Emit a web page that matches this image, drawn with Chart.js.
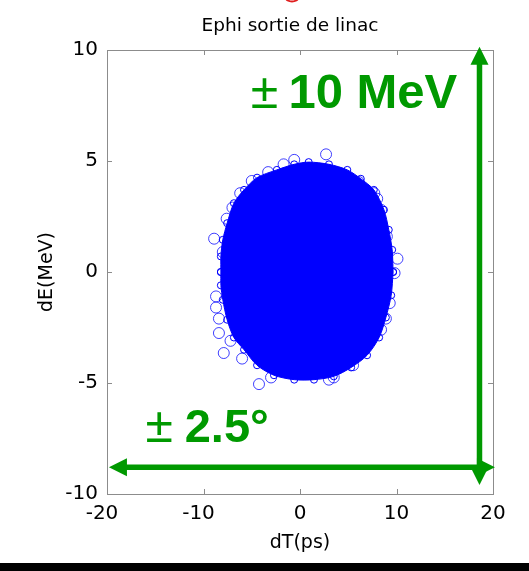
<!DOCTYPE html>
<html>
<head>
<meta charset="utf-8">
<script src="https://cdn.jsdelivr.net/npm/chart.js@4.4.1/dist/chart.umd.min.js"></script>
<style>
  html, body { margin: 0; padding: 0; background: #fff; }
  canvas { display: block; }
</style>
</head>
<body>
<canvas id="ephiChart" width="529" height="571"></canvas>
<script>
// axis ticks
const tTicks = [-20, -10, 0, 10, 20];
const eTicks = [-10, -5, 0, 5, 10];

// edge of the dense core (dT in ps, dE in MeV)
const topEdgeT = [-8.2, -8.2, -8.0, -7.55, -6.85, -5.8, -4.45, -2.4, -0.6, 0.9, 3.0, 4.9, 6.3, 7.65, 8.7, 9.2, 9.55, 9.65];
const topEdgeE = [0, 0.7, 1.45, 2.2, 3.1, 3.7, 4.25, 4.6, 4.85, 4.95, 4.85, 4.6, 4.2, 3.7, 2.8, 1.9, 1.0, 0];
const lowEdgeT = [-8.2, -8.2, -8.0, -7.55, -6.85, -5.8, -4.45, -2.7, -0.6, 1.45, 3.5, 5.3, 6.95, 8.2, 8.9, 9.45, 9.65];
const lowEdgeE = [0, -0.6, -1.25, -2.15, -2.95, -3.5, -4.2, -4.65, -4.85, -4.85, -4.7, -4.3, -3.75, -2.95, -2.05, -1.05, 0];

// isolated particles around the core
const strayT = [2.7, -0.6, -1.7, -3.3, -7.0, -8.9, 6.1, 7.7, 8.4, 10.1, 9.8, -8.7, -8.7, 8.9, -8.4, -8.4, -7.9, -4.25, 3.0, 3.5, 7.15,
                -6.2, -5.0, -7.6, -8.0, 8.0, 9.0, 9.3, 8.4, -7.2, -6.0, -3.0, 5.5];
const strayE = [5.3, 5.05, 4.85, 4.5, 2.9, 1.5, 4.05, 3.55, 2.8, 0.6, -0.05, -1.1, -1.6, -2.1, -2.1, -2.75, -3.65, -5.05, -4.85, -4.75, -3.0,
                3.55, 4.1, 2.4, 0.9, 3.3, 1.6, -1.4, -2.6, -3.1, -3.9, -4.75, -4.2];

const BLUE = '#0000ff';
const GREEN = 'rgb(0,153,0)';
const FRAME = '#8c8c8c';

function pairs(xs, ys) {
  return xs.map((x, i) => ({ x: x, y: ys[i] }));
}

function tri(ctx, p) {
  ctx.beginPath();
  ctx.moveTo(p[0], p[1]); ctx.lineTo(p[2], p[3]); ctx.lineTo(p[4], p[5]);
  ctx.closePath();
  ctx.fill();
}

const decor = {
  id: 'decor',
  beforeDraw(chart) {
    const ctx = chart.ctx;
    ctx.save();
    ctx.fillStyle = '#fff';
    ctx.fillRect(0, 0, chart.width, chart.height);
    ctx.restore();
  },
  afterDraw(chart) {
    const ctx = chart.ctx;
    const xs = chart.scales.x, ys = chart.scales.y;
    const a = chart.chartArea;
    const px = v => xs.getPixelForValue(v);
    const py = v => ys.getPixelForValue(v);

    ctx.save();
    // inward tick marks on all four sides
    ctx.strokeStyle = FRAME;
    ctx.lineWidth = 1;
    ctx.beginPath();
    xs.ticks.forEach(t => {
      const x = Math.round(px(t.value)) + 0.5;
      ctx.moveTo(x, a.bottom); ctx.lineTo(x, a.bottom - 5);
      ctx.moveTo(x, a.top); ctx.lineTo(x, a.top + 5);
    });
    ys.ticks.forEach(t => {
      const y = Math.round(py(t.value)) + 0.5;
      ctx.moveTo(a.left, y); ctx.lineTo(a.left + 5, y);
      ctx.moveTo(a.right, y); ctx.lineTo(a.right - 5, y);
    });
    ctx.stroke();

    // title
    ctx.fillStyle = '#000';
    ctx.font = '18.5px "DejaVu Sans"';
    ctx.textAlign = 'center';
    ctx.textBaseline = 'alphabetic';
    ctx.fillText('Ephi sortie de linac', 290, 31);

    // green arrows
    ctx.fillStyle = GREEN;
    ctx.strokeStyle = GREEN;
    ctx.lineWidth = 5.5;
    const vx = px(18.6), vTop = py(10.15), vBot = py(-9.6);
    const hy = py(-8.8), hL = px(-19.8), hR = px(20.2);
    const head = 18, half = 9;
    ctx.beginPath();
    ctx.moveTo(vx, vTop + head - 1); ctx.lineTo(vx, vBot - head + 1);
    ctx.moveTo(hL + head - 1, hy); ctx.lineTo(hR - head + 1, hy);
    ctx.stroke();
    tri(ctx, [vx, vTop, vx - half, vTop + head, vx + half, vTop + head]);
    tri(ctx, [vx, vBot, vx - half, vBot - head, vx + half, vBot - head]);
    tri(ctx, [hL, hy, hL + head, hy - half, hL + head, hy + half]);
    tri(ctx, [hR, hy, hR - head, hy - half, hR - head, hy + half]);

    // range labels
    ctx.textAlign = 'left';
    ctx.font = '50px "Liberation Sans"';
    ctx.fillText('\u00b1', px(-5.1), py(7.39));
    ctx.fillText('\u00b1', px(-16.0), py(-7.66));
    ctx.font = 'bold 49px "Liberation Sans"';
    ctx.fillText('10 MeV', px(-1.2), py(7.39));
    ctx.font = 'bold 47px "Liberation Sans"';
    ctx.fillText('2.5\u00b0', px(-11.95), py(-7.66));

    // slide bits outside the plot
    ctx.fillStyle = '#000';
    ctx.fillRect(0, 563, chart.width, chart.height - 563);
    ctx.strokeStyle = '#e02020';
    ctx.lineWidth = 2;
    ctx.beginPath();
    ctx.ellipse(292, -2, 6, 3.5, 0, 0, Math.PI);
    ctx.stroke();
    ctx.restore();
  }
};

const tickFont = { family: 'DejaVu Sans', size: 20 };
const titleFont = { family: 'DejaVu Sans', size: 19 };

new Chart(document.getElementById('ephiChart'), {
  type: 'scatter',
  data: {
    datasets: [
      {
        data: pairs(topEdgeT, topEdgeE),
        showLine: true,
        tension: 0.3,
        fill: 'origin',
        backgroundColor: BLUE,
        borderColor: BLUE,
        borderWidth: 1,
        pointRadius: 3.5,
        pointBorderColor: BLUE,
        pointBackgroundColor: 'rgba(0,0,255,0)',
        pointBorderWidth: 1
      },
      {
        data: pairs(lowEdgeT, lowEdgeE),
        showLine: true,
        tension: 0.3,
        fill: 'origin',
        backgroundColor: BLUE,
        borderColor: BLUE,
        borderWidth: 1,
        pointRadius: 3.5,
        pointBorderColor: BLUE,
        pointBackgroundColor: 'rgba(0,0,255,0)',
        pointBorderWidth: 1
      },
      {
        data: pairs(strayT, strayE),
        showLine: false,
        pointRadius: 5.5,
        pointBorderColor: 'rgba(30,30,255,0.85)',
        pointBackgroundColor: 'rgba(0,0,255,0)',
        pointBorderWidth: 1
      }
    ]
  },
  options: {
    responsive: false,
    animation: false,
    devicePixelRatio: 1,
    layout: { padding: 0 },
    plugins: { legend: { display: false }, tooltip: { enabled: false } },
    scales: {
      x: {
        type: 'linear', position: 'bottom', min: -20, max: 20,
        afterBuildTicks: s => { s.ticks = tTicks.map(v => ({ value: v })); },
        ticks: {
          font: tickFont, color: '#000', padding: 7.5, maxRotation: 0,
          callback: v => v < 0 ? String(v) + '\u2002' : String(v)
        },
        grid: { display: false, drawTicks: false },
        border: { color: FRAME, width: 1 },
        title: { display: true, text: 'dT(ps)', font: titleFont, color: '#000', padding: { top: 0, bottom: 16.6 } },
        afterFit: s => { s.height = 77; }
      },
      x2: {
        type: 'linear', position: 'top', min: -20, max: 20,
        ticks: { display: false },
        grid: { display: false, drawTicks: false },
        border: { color: FRAME, width: 1 },
        afterFit: s => { s.height = 50; }
      },
      y: {
        type: 'linear', position: 'left', min: -10, max: 10,
        afterBuildTicks: s => { s.ticks = eTicks.map(v => ({ value: v })); },
        ticks: { font: tickFont, color: '#000', padding: 9, callback: v => String(v) },
        grid: { display: false, drawTicks: false },
        border: { color: FRAME, width: 1 },
        title: { display: true, text: 'dE(MeV)', font: titleFont, color: '#000', padding: { top: 35.6, bottom: 0 } },
        afterFit: s => { s.width = 107; }
      },
      y2: {
        type: 'linear', position: 'right', min: -10, max: 10,
        ticks: { display: false },
        grid: { display: false, drawTicks: false },
        border: { color: FRAME, width: 1 },
        afterFit: s => { s.width = 36; }
      }
    }
  },
  plugins: [decor]
});
</script>
</body>
</html>
